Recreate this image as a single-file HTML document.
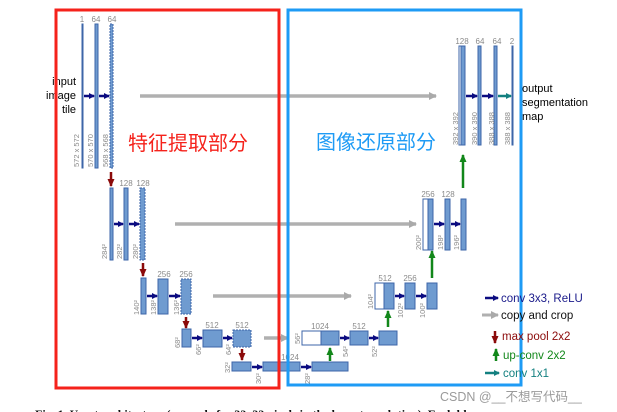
<!DOCTYPE html>
<html><head><meta charset="utf-8"><style>
html,body{margin:0;padding:0;background:#fff;}
svg{display:block;font-family:"Liberation Sans","Noto Sans CJK SC",sans-serif;}
.b{fill:#6f9bd0;stroke:#3d66a8;stroke-width:1;}
.w{fill:#fff;stroke:#3d66a8;stroke-width:1;}
.d{fill:#6f9bd0;stroke:#3d66a8;stroke-width:1;stroke-dasharray:2 1;}
.n{font-size:8px;fill:#8a8a8a;text-anchor:middle;}
.v{font-size:7.5px;fill:#8a8a8a;}
</style></head><body>
<svg width="617" height="412" viewBox="0 0 617 412" xmlns="http://www.w3.org/2000/svg">
<defs>
<marker id="an" markerWidth="6" markerHeight="6" refX="5" refY="3" orient="auto" markerUnits="userSpaceOnUse"><path d="M0,0 L6,3 L0,6z" fill="#0b0b80"/></marker>
<marker id="ag" markerWidth="8" markerHeight="8" refX="7" refY="4" orient="auto" markerUnits="userSpaceOnUse"><path d="M0,0 L8,4 L0,8z" fill="#aaa"/></marker>
<marker id="ar" markerWidth="8" markerHeight="7" refX="7" refY="3.5" orient="auto" markerUnits="userSpaceOnUse"><path d="M0,0 L8,3.5 L0,7z" fill="#8b0a0a"/></marker>
<marker id="au" markerWidth="8" markerHeight="7" refX="7" refY="3.5" orient="auto" markerUnits="userSpaceOnUse"><path d="M0,0 L8,3.5 L0,7z" fill="#12871a"/></marker>
<marker id="at" markerWidth="6" markerHeight="6" refX="5" refY="3" orient="auto" markerUnits="userSpaceOnUse"><path d="M0,0 L6,3 L0,6z" fill="#138080"/></marker>
</defs>

<!-- gray copy arrows -->
<g stroke="#b0b0b0" stroke-width="3.5" marker-end="url(#ag)">
<line x1="140" y1="96" x2="436" y2="96"/>
<line x1="175" y1="224" x2="416" y2="224"/>
<line x1="213" y1="296" x2="351" y2="296"/>
<line x1="264" y1="338" x2="288" y2="338"/>
</g>

<!-- level 1 -->
<rect x="82" y="24" width="1" height="144" class="b"/>
<rect x="95" y="24" width="3" height="144" class="b"/>
<rect x="110" y="24" width="3" height="144" class="d"/>
<text class="n" x="82" y="22">1</text><text class="n" x="96" y="22">64</text><text class="n" x="112" y="22">64</text>
<text font-size="11" x="76" y="85" text-anchor="end">input</text>
<text font-size="11" x="76" y="99" text-anchor="end">image</text>
<text font-size="11" x="76" y="113" text-anchor="end">tile</text>
<text class="v" transform="translate(79,167) rotate(-90)">572 x 572</text>
<text class="v" transform="translate(93,167) rotate(-90)">570 x 570</text>
<text class="v" transform="translate(108,167) rotate(-90)">568 x 568</text>
<g stroke="#0b0b80" stroke-width="2.5" marker-end="url(#an)">
<line x1="84" y1="96" x2="94" y2="96"/><line x1="99" y1="96" x2="109" y2="96"/>
</g>
<line x1="111" y1="172" x2="111" y2="186" stroke="#8b0a0a" stroke-width="2.5" marker-end="url(#ar)"/>

<!-- level 2 -->
<rect x="110" y="188" width="3" height="72" class="b"/>
<rect x="124" y="188" width="4" height="72" class="b"/>
<rect x="140" y="188" width="5" height="72" class="d"/>
<text class="n" x="126" y="186">128</text><text class="n" x="143" y="186">128</text>
<text class="v" transform="translate(107,259) rotate(-90)">284²</text>
<text class="v" transform="translate(122,259) rotate(-90)">282²</text>
<text class="v" transform="translate(138,259) rotate(-90)">280²</text>
<g stroke="#0b0b80" stroke-width="2.5" marker-end="url(#an)">
<line x1="114" y1="224" x2="123" y2="224"/><line x1="129" y1="224" x2="139" y2="224"/>
</g>
<line x1="143" y1="263" x2="143" y2="276" stroke="#8b0a0a" stroke-width="2.5" marker-end="url(#ar)"/>

<!-- level 3 -->
<rect x="141" y="278" width="5" height="36" class="b"/>
<rect x="158" y="279" width="10" height="35" class="b"/>
<rect x="181" y="279" width="10" height="35" class="d"/>
<text class="n" x="164" y="277">256</text><text class="n" x="186" y="277">256</text>
<text class="v" transform="translate(139,315) rotate(-90)">140²</text>
<text class="v" transform="translate(156,315) rotate(-90)">138²</text>
<text class="v" transform="translate(179,315) rotate(-90)">136²</text>
<g stroke="#0b0b80" stroke-width="2.5" marker-end="url(#an)">
<line x1="147" y1="296" x2="157" y2="296"/><line x1="169" y1="296" x2="180" y2="296"/>
</g>
<line x1="186" y1="317" x2="186" y2="328" stroke="#8b0a0a" stroke-width="2.5" marker-end="url(#ar)"/>

<!-- level 4 down -->
<rect x="182" y="329" width="9" height="18" class="b"/>
<rect x="203" y="330" width="19" height="17" class="b"/>
<rect x="233" y="330" width="18" height="17" class="d"/>
<text class="n" x="212" y="328">512</text><text class="n" x="242" y="328">512</text>
<text class="v" transform="translate(180,348) rotate(-90)">68²</text>
<text class="v" transform="translate(201,355) rotate(-90)">66²</text>
<text class="v" transform="translate(231,355) rotate(-90)">64²</text>
<g stroke="#0b0b80" stroke-width="2.5" marker-end="url(#an)">
<line x1="192" y1="338" x2="202" y2="338"/><line x1="223" y1="338" x2="232" y2="338"/>
</g>
<line x1="242" y1="349" x2="242" y2="360" stroke="#8b0a0a" stroke-width="2.5" marker-end="url(#ar)"/>

<!-- level 5 -->
<rect x="232" y="362" width="19" height="9" class="b"/>
<rect x="263" y="362" width="37" height="9" class="b"/>
<rect x="312" y="362" width="36" height="9" class="b"/>
<text class="n" x="290" y="360">1024</text>
<text class="v" transform="translate(230,373) rotate(-90)">32²</text>
<text class="v" transform="translate(261,384) rotate(-90)">30²</text>
<text class="v" transform="translate(310,384) rotate(-90)">28²</text>
<g stroke="#0b0b80" stroke-width="2.5" marker-end="url(#an)">
<line x1="252" y1="367" x2="262" y2="367"/><line x1="301" y1="367" x2="311" y2="367"/>
</g>
<line x1="330" y1="361" x2="330" y2="348" stroke="#12871a" stroke-width="2.5" marker-end="url(#au)"/>

<!-- level 4 up -->
<rect x="302" y="331" width="19" height="14" class="w"/>
<rect x="321" y="331" width="18" height="14" class="b"/>
<rect x="350" y="331" width="18" height="14" class="b"/>
<rect x="379" y="331" width="18" height="14" class="b"/>
<text class="n" x="320" y="329">1024</text><text class="n" x="359" y="329">512</text>
<text class="v" transform="translate(300,344) rotate(-90)">56²</text>
<text class="v" transform="translate(348,357) rotate(-90)">54²</text>
<text class="v" transform="translate(377,357) rotate(-90)">52²</text>
<g stroke="#0b0b80" stroke-width="2.5" marker-end="url(#an)">
<line x1="340" y1="338" x2="349" y2="338"/><line x1="369" y1="338" x2="378" y2="338"/>
</g>
<line x1="388" y1="327" x2="388" y2="311" stroke="#12871a" stroke-width="2.5" marker-end="url(#au)"/>

<!-- level 3 up -->
<rect x="375" y="283" width="9" height="26" class="w"/>
<rect x="384" y="283" width="10" height="26" class="b"/>
<rect x="405" y="283" width="10" height="26" class="b"/>
<rect x="427" y="283" width="10" height="26" class="b"/>
<text class="n" x="385" y="281">512</text><text class="n" x="410" y="281">256</text>
<text class="v" transform="translate(373,309) rotate(-90)">104²</text>
<text class="v" transform="translate(403,318) rotate(-90)">102²</text>
<text class="v" transform="translate(425,318) rotate(-90)">100²</text>
<g stroke="#0b0b80" stroke-width="2.5" marker-end="url(#an)">
<line x1="395" y1="296" x2="404" y2="296"/><line x1="416" y1="296" x2="426" y2="296"/>
</g>
<line x1="432" y1="278" x2="432" y2="251" stroke="#12871a" stroke-width="2.5" marker-end="url(#au)"/>

<!-- level 2 up -->
<rect x="423" y="199" width="5" height="51" class="w"/>
<rect x="428" y="199" width="5" height="51" class="b"/>
<rect x="445" y="199" width="5" height="51" class="b"/>
<rect x="461" y="199" width="5" height="51" class="b"/>
<text class="n" x="428" y="197">256</text><text class="n" x="448" y="197">128</text>
<text class="v" transform="translate(421,250) rotate(-90)">200²</text>
<text class="v" transform="translate(443,250) rotate(-90)">198²</text>
<text class="v" transform="translate(459,250) rotate(-90)">196²</text>
<g stroke="#0b0b80" stroke-width="2.5" marker-end="url(#an)">
<line x1="434" y1="224" x2="444" y2="224"/><line x1="451" y1="224" x2="460" y2="224"/>
</g>
<line x1="463" y1="188" x2="463" y2="155" stroke="#12871a" stroke-width="2.5" marker-end="url(#au)"/>

<!-- level 1 up -->
<rect x="459" y="46" width="2" height="99" class="w"/>
<rect x="461" y="46" width="4" height="99" class="b"/>
<rect x="478" y="46" width="3" height="99" class="b"/>
<rect x="494" y="46" width="3" height="99" class="b"/>
<rect x="512" y="46" width="1" height="99" class="b"/>
<text class="n" x="462" y="44">128</text><text class="n" x="480" y="44">64</text><text class="n" x="497" y="44">64</text><text class="n" x="512" y="44">2</text>
<text class="v" transform="translate(458,145) rotate(-90)">392 x 392</text>
<text class="v" transform="translate(477,145) rotate(-90)">390 x 390</text>
<text class="v" transform="translate(494,145) rotate(-90)">388 x 388</text>
<text class="v" transform="translate(510,145) rotate(-90)">388 x 388</text>
<g stroke="#0b0b80" stroke-width="2.5" marker-end="url(#an)">
<line x1="466" y1="96" x2="477" y2="96"/><line x1="482" y1="96" x2="493" y2="96"/>
</g>
<line x1="498" y1="96" x2="511" y2="96" stroke="#138080" stroke-width="2.5" marker-end="url(#at)"/>
<text font-size="11" x="522" y="92">output</text>
<text font-size="11" x="522" y="106">segmentation</text>
<text font-size="11" x="522" y="120">map</text>

<!-- boxes -->
<rect x="56" y="10" width="223" height="378" fill="none" stroke="#f5221b" stroke-width="3"/>
<rect x="288" y="10" width="233" height="375" fill="none" stroke="#1e9bf5" stroke-width="3"/>
<text x="128" y="150" font-size="20" fill="#f5221b" font-family="'Noto Sans CJK SC',sans-serif">特征提取部分</text>
<text x="316" y="149" font-size="20" fill="#1e9bf5" font-family="'Noto Sans CJK SC',sans-serif">图像还原部分</text>

<!-- legend -->
<line x1="485" y1="298" x2="498" y2="298" stroke="#0b0b80" stroke-width="2.5" marker-end="url(#an)"/>
<text x="501" y="302" font-size="11.5" fill="#1a1a8a">conv 3x3, ReLU</text>
<line x1="482" y1="315" x2="498" y2="315" stroke="#b0b0b0" stroke-width="3" marker-end="url(#ag)"/>
<text x="501" y="319" font-size="11.5" fill="#111">copy and crop</text>
<line x1="495" y1="331" x2="495" y2="343" stroke="#8b0a0a" stroke-width="2.5" marker-end="url(#ar)"/>
<text x="502" y="340" font-size="11.5" fill="#8b0a0a">max pool 2x2</text>
<line x1="496" y1="361" x2="496" y2="349" stroke="#12871a" stroke-width="2.5" marker-end="url(#au)"/>
<text x="503" y="359" font-size="11.5" fill="#12871a">up-conv 2x2</text>
<line x1="485" y1="373" x2="499" y2="373" stroke="#138080" stroke-width="2.5" marker-end="url(#at)"/>
<text x="503" y="377" font-size="11.5" fill="#138080">conv 1x1</text>

<text x="440" y="401" font-size="12.5" fill="#9a9a9a">CSDN @__不想写代码__</text>
<text x="35" y="418" font-size="12" font-weight="bold" font-family="'Liberation Serif',serif" fill="#111">Fig. 1. U-net architecture (example for 32x32 pixels in the lowest resolution). Each blue</text>
</svg>
</body></html>
